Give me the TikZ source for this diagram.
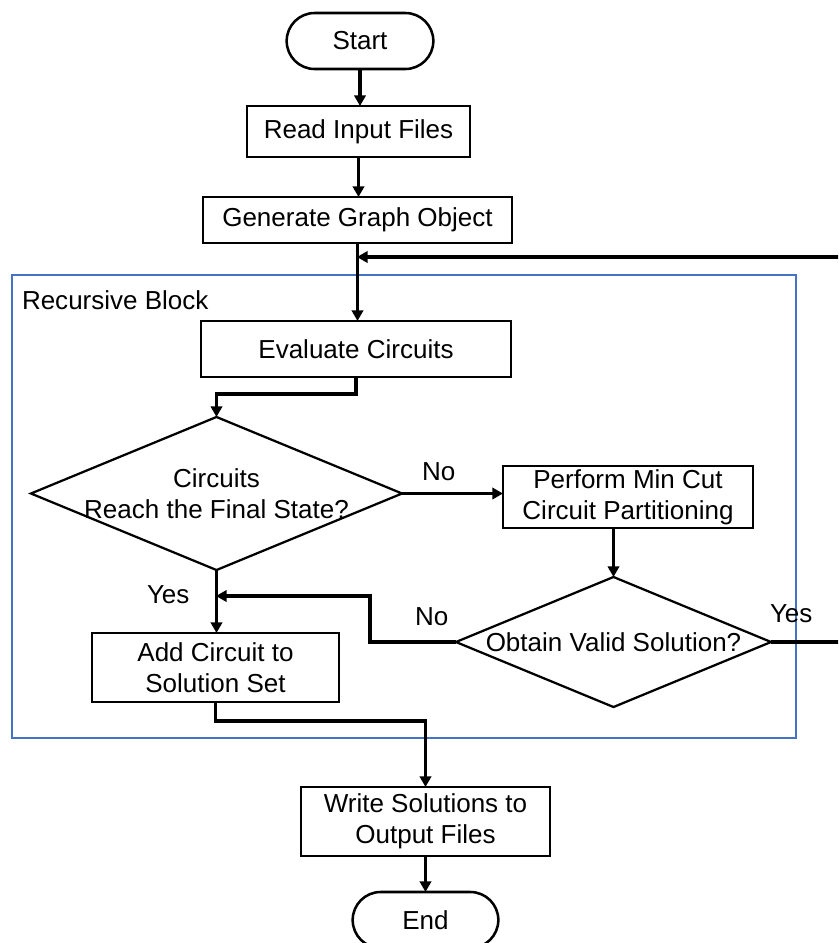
\documentclass[tikz,border=0pt]{standalone}
\usepackage{fontspec}
\setmainfont{Liberation Sans}
\usetikzlibrary{shapes.geometric,shapes.misc,arrows.meta}
\definecolor{blockblue}{RGB}{70,114,196}

\begin{document}
\begin{tikzpicture}[
  x=0.025cm, y=-0.025cm,
  every node/.style = {font=\fontsize{18.5pt}{22pt}\selectfont, align=center, outer sep=0pt},
  terminal/.style = {shape=rounded rectangle, draw, line width=1.8pt, minimum width=3.9cm, minimum height=1.4cm},
  process/.style = {shape=rectangle, draw, line width=1.8pt, inner sep=0pt},
  decision/.style = {shape=diamond, draw, line width=1.6pt, inner sep=0pt},
  flow/.style = {line width=2.2pt, -{Triangle[length=7.5pt,width=8pt]}},
  tag/.style = {anchor=base west, inner sep=0pt},
  block/.style = {draw=blockblue, line width=0.9pt}
]
  \clip (0,0) rectangle (838,943);
  \fill[white] (0,0) rectangle (838,943);

  \draw[block] (12,275) rectangle (796,738);
  \node[tag] (blocktitle) at (22,309) {Recursive Block};

  \node[terminal] (start) at (360,41) {Start};
  \node[process, minimum width=5.575cm, minimum height=1.275cm] (read) at (358.5,131.5) {Read Input Files};
  \node[process, minimum width=7.725cm, minimum height=1.15cm] (graph) at (357.5,220) {Generate Graph Object};
  \node[process, minimum width=7.75cm, minimum height=1.4cm] (eval) at (356,349) {Evaluate Circuits};
  \node[decision, minimum width=9.275cm, minimum height=3.825cm] (final) at (216.5,493.5) {};
  \node (finaltxt) at (final) {Circuits\\Reach the Final State?};
  \node[process, minimum width=6.25cm, minimum height=1.55cm] (mincut) at (628,497) {Perform Min Cut\\Circuit Partitioning};
  \node[decision, minimum width=7.875cm, minimum height=3.25cm] (valid) at (613.5,642) {};
  \node (validtxt) at (valid) {Obtain Valid Solution?};
  \node[process, minimum width=6.175cm, minimum height=1.725cm] (add) at (215.5,667.5) {Add Circuit to\\Solution Set};
  \node[process, minimum width=6.225cm, minimum height=1.725cm] (write) at (425.5,821.5) {Write Solutions to\\Output Files};
  \node[terminal, minimum width=3.875cm] (end) at (425.5,920) {End};

  \node[tag] (no1) at (422,480) {No};
  \node[tag] (no2) at (415,625) {No};
  \node[tag] (yes1) at (147,603) {Yes};
  \node[tag] (yes2) at (770,622) {Yes};

  \coordinate (loopin) at (357,257);
  \coordinate (loopturn) at (860,257);
  \coordinate (rejoin) at (216,596);

  \draw[flow] (start.south) -- (start.south |- read.north);
  \draw[flow] (read.south) -- (read.south |- graph.north);
  \draw[flow] (graph.south) -- (graph.south |- eval.north);
  \draw[flow] (eval.south) -- ++(0,17) -| (final.north);
  \draw[flow] (final.east) -- (final.east -| mincut.west);
  \draw[flow] (valid.north |- mincut.south) -- (valid.north);
  \draw[flow] (final.south) -- (final.south |- add.north);
  \draw[flow] (valid.west) -- ++(-86,0) |- (rejoin);
  \draw[flow] (valid.east) -| (loopturn) -- (loopin);
  \draw[flow] (add.south) -- ++(0,19) -| (write.north);
  \draw[flow] (write.south) -- (end.north);
\end{tikzpicture}
\end{document}
